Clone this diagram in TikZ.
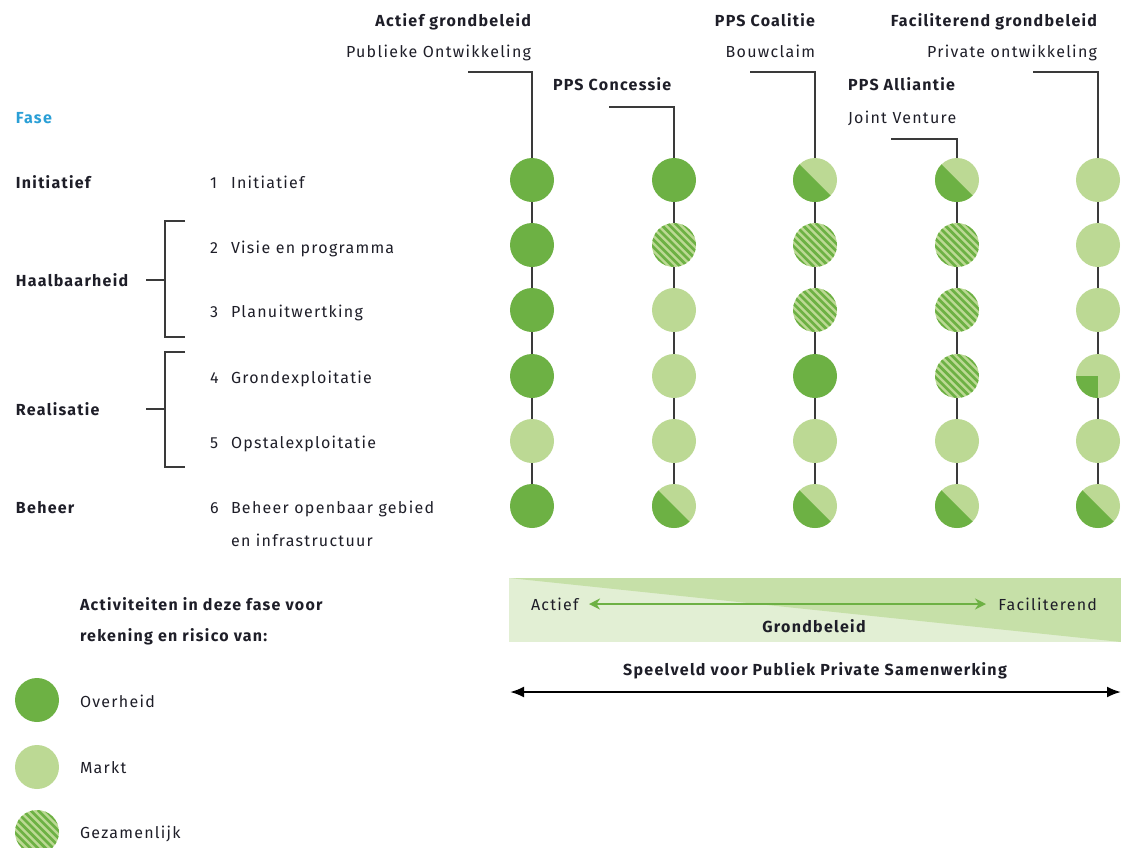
\documentclass[tikz,border=0pt]{standalone}
\usepackage{fontspec}
\setmainfont[LetterSpace=8]{Fira Sans}
\usetikzlibrary{arrows.meta}
\definecolor{dkg}{HTML}{6DB144}
\definecolor{ltg}{HTML}{BCD994}
\definecolor{barlt}{HTML}{E2EFD4}
\definecolor{bardk}{HTML}{C6E0A8}
\definecolor{ink}{HTML}{1E1E28}
\definecolor{fase}{HTML}{2A9FD6}
\definecolor{lead}{HTML}{3A3A3A}
\begin{document}
\begin{tikzpicture}[x=1pt,y=-1pt,
  every node/.style={inner sep=0pt, outer sep=0pt, text=ink, font=\fontsize{16}{18}\selectfont},
  bold/.style={font=\fontsize{16}{18}\selectfont\bfseries},
  dot/.style={circle, minimum size=44pt, inner sep=0pt},
  gov/.style={dot, fill=dkg},
  mkt/.style={dot, fill=ltg},
  joint/.style={dot, fill=ltg, path picture={
     \foreach \k in {-7,...,7}{\draw[dkg, line width=2.7pt]
       ([xshift=\k*7.6pt]path picture bounding box.north west) --
       ([xshift=\k*7.6pt]path picture bounding box.south east);}}},
  half/.style={dot, fill=ltg, path picture={
     \fill[dkg] (path picture bounding box.north west) -- (path picture bounding box.south east) -- (path picture bounding box.south west) -- cycle;}},
  quart/.style={dot, fill=ltg, path picture={
     \fill[dkg] (path picture bounding box.center) rectangle (path picture bounding box.south west);}},
  conn/.style={draw=lead, line width=1.8pt},
  brk/.style={draw=lead, line width=1.8pt}
]
\useasboundingbox (0,0) rectangle (1121,847);

% column headers
\node[bold, anchor=base east] (h1) at (531,26) {Actief grondbeleid};
\node[anchor=base east] (s1) at (531,57) {Publieke Ontwikkeling};
\node[bold, anchor=base west] (h2) at (553,90) {PPS Concessie};
\node[bold, anchor=base east] (h3) at (815,26) {PPS Coalitie};
\node[anchor=base east] (s3) at (815,57) {Bouwclaim};
\node[bold, anchor=base west] (h4) at (848,90) {PPS Alliantie};
\node[anchor=base west] (s4) at (848,123) {Joint Venture};
\node[bold, anchor=base east] (h5) at (1097,26) {Faciliterend grondbeleid};
\node[anchor=base east] (s5) at (1097,57) {Private ontwikkeling};

\coordinate (l1) at (468,72);
\coordinate (l2) at (609,107);
\coordinate (l3) at (750,72);
\coordinate (l4) at (891,139);
\coordinate (l5) at (1033,72);

% circles
\def\ya{180}\def\yb{245}\def\yc{310}\def\yd{376}\def\ye{441}\def\yf{506}
\node[gov] (c1-1) at (532,\ya) {};
\node[gov] (c1-2) at (532,\yb) {};
\node[gov] (c1-3) at (532,\yc) {};
\node[gov] (c1-4) at (532,\yd) {};
\node[mkt] (c1-5) at (532,\ye) {};
\node[gov] (c1-6) at (532,\yf) {};

\node[gov] (c2-1) at (674,\ya) {};
\node[joint] (c2-2) at (674,\yb) {};
\node[mkt] (c2-3) at (674,\yc) {};
\node[mkt] (c2-4) at (674,\yd) {};
\node[mkt] (c2-5) at (674,\ye) {};
\node[half] (c2-6) at (674,\yf) {};

\node[half] (c3-1) at (815,\ya) {};
\node[joint] (c3-2) at (815,\yb) {};
\node[joint] (c3-3) at (815,\yc) {};
\node[gov] (c3-4) at (815,\yd) {};
\node[mkt] (c3-5) at (815,\ye) {};
\node[half] (c3-6) at (815,\yf) {};

\node[half] (c4-1) at (957,\ya) {};
\node[joint] (c4-2) at (957,\yb) {};
\node[joint] (c4-3) at (957,\yc) {};
\node[joint] (c4-4) at (957,\yd) {};
\node[mkt] (c4-5) at (957,\ye) {};
\node[half] (c4-6) at (957,\yf) {};

\node[mkt] (c5-1) at (1098,\ya) {};
\node[mkt] (c5-2) at (1098,\yb) {};
\node[mkt] (c5-3) at (1098,\yc) {};
\node[quart] (c5-4) at (1098,\yd) {};
\node[mkt] (c5-5) at (1098,\ye) {};
\node[half] (c5-6) at (1098,\yf) {};

\foreach \c in {1,...,5}{
  \draw[conn] (l\c) -| (c\c-1);
  \foreach \r/\s in {1/2,2/3,3/4,4/5,5/6}{\draw[conn] (c\c-\r) -- (c\c-\s);}
}

% left side
\node[bold, anchor=base west, text=fase] (fase) at (16,123) {Fase};
\node[bold, anchor=base west] (p1) at (16,188) {Initiatief};
\node[bold, anchor=base west] (p2) at (16,286) {Haalbaarheid};
\node[bold, anchor=base west] (p3) at (16,415) {Realisatie};
\node[bold, anchor=base west] (p4) at (16,513) {Beheer};

\foreach \n/\t/\y in {1/Initiatief/188, 2/Visie en programma/253, 3/Planuitwertking/317, 4/Grondexploitatie/383, 5/Opstalexploitatie/448, 6/Beheer openbaar gebied/513}{
  \node[anchor=base west] (n\n) at (210,\y) {\n};
  \node[anchor=base west] (t\n) at (231,\y) {\t};
}
\node[anchor=base west] (t7) at (231,546) {en infrastructuur};

\coordinate (b1a) at (146,280);
\coordinate (b1t) at (185,221);
\coordinate (b1b) at (185,337);
\draw[brk] (b1t) -- (165,221) -- (165,337) -- (b1b);
\draw[brk] (b1a) -- (165,280);
\coordinate (b2a) at (146,409);
\coordinate (b2t) at (185,352);
\coordinate (b2b) at (185,467);
\draw[brk] (b2t) -- (165,352) -- (165,467) -- (b2b);
\draw[brk] (b2a) -- (165,409);

% bar
\fill[barlt] (509,578) rectangle (1121,642);
\fill[bardk] (509,578) -- (1121,578) -- (1121,642) -- cycle;
\node[anchor=base west] (act) at (531,610) {Actief};
\node[anchor=base east] (fac) at (1097,610) {Faciliterend};
\coordinate (ga) at (589,604);
\coordinate (gb) at (986,604);
\draw[dkg, line width=2.4pt, {Stealth[length=11pt,width=11pt]}-{Stealth[length=11pt,width=11pt]}] (ga) -- (gb);
\node[bold, anchor=base] (gb1) at (814,632) {Grondbeleid};
\node[bold, anchor=base] (spv) at (815,675) {Speelveld voor Publiek Private Samenwerking};
\coordinate (sa) at (510,692);
\coordinate (sb) at (1121,692);
\draw[black, line width=2.2pt, {Latex[length=14pt,width=11pt]}-{Latex[length=14pt,width=11pt]}] (sa) -- (sb);

% legend
\node[bold, anchor=base west] (lg1) at (80,610) {Activiteiten in deze fase voor};
\node[bold, anchor=base west] (lg2) at (80,641) {rekening en risico van:};
\node[gov] (lc1) at (37,700) {};
\node[mkt] (lc2) at (37,767) {};
\node[joint] (lc3) at (37,832) {};
\node[anchor=base west] (ll1) at (80,707) {Overheid};
\node[anchor=base west] (ll2) at (80,773) {Markt};
\node[anchor=base west] (ll3) at (80,838) {Gezamenlijk};
\end{tikzpicture}
\end{document}
